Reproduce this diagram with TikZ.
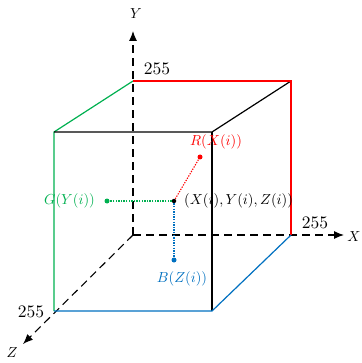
\documentclass[tikz,border=0pt]{standalone}
\usetikzlibrary{arrows.meta}
\definecolor{mygreen}{RGB}{0,176,80}
\definecolor{myred}{RGB}{255,0,0}
\definecolor{myblue}{RGB}{0,112,192}
\newcommand{\lbltxt}[1]{\scalebox{1.45}{#1}}
\newcommand{\numtxt}[1]{\scalebox{1.75}{#1}}
\begin{document}
\begin{tikzpicture}[x=1pt,y=-1pt,
  axis/.style={black,line width=1.1pt,dash pattern=on 8pt off 5pt,-{Latex[length=10pt,width=8pt]}},
  cubeedge/.style={line width=1.2pt},
  guide/.style={line width=1.1pt,dash pattern=on 1.3pt off 1.3pt},
  pt/.style={circle,fill,inner sep=0pt,minimum size=5pt},
  lab/.style={inner sep=1pt}]
\useasboundingbox (0,0) rectangle (361,363);
% cube vertices
\coordinate (O) at (133,235);
\coordinate (BTL) at (133,81);
\coordinate (BTR) at (291,81);
\coordinate (BBR) at (291,235);
\coordinate (FTL) at (54,132);
\coordinate (FTR) at (212,132);
\coordinate (FBL) at (54,311);
\coordinate (FBR) at (212,311);
\coordinate (Yend) at (133,31);
\coordinate (Xend) at (344,235);
\coordinate (Zend) at (23,344);
% axes
\draw[axis] (O) -- (Yend);
\draw[axis] (O) -- (Xend);
\draw[axis] (O) -- (Zend);
% edges
\draw[cubeedge,draw=mygreen] (FBL) -- (FTL) -- (BTL);
\draw[cubeedge,draw=black] (FTL) -- (FTR) -- (BTR);
\draw[cubeedge,draw=black] (FTR) -- (FBR);
\draw[cubeedge,draw=myred] (BTL) -- (BTR) -- (BBR);
\draw[cubeedge,draw=myblue] (FBL) -- (FBR) -- (BBR);
% axis labels
\node[lab] (ly) at (136,14) {\lbltxt{$Y$}};
\node[lab] (lx) at (354,237) {\lbltxt{$X$}};
\node[lab] (lz) at (12,353) {\lbltxt{$Z$}};
\node[lab] (n1) at (157,69) {\numtxt{$255$}};
\node[lab] (n2) at (315,223) {\numtxt{$255$}};
\node[lab] (n3) at (31,312) {\numtxt{$255$}};
% point and projections
\node[pt,fill=black,minimum size=4.5pt] (P) at (174,201) {};
\node[pt,fill=myred] (R) at (200,157) {};
\node[pt,fill=mygreen] (G) at (107,201) {};
\node[pt,fill=myblue] (B) at (174,260) {};
\draw[guide,draw=myred] (P) -- (R);
\draw[guide,draw=mygreen] (P) -- (G);
\draw[guide,draw=myblue] (P) -- (B);
\node[lab,text=myred] (lr) at (216,142) {\lbltxt{$R(X(i))$}};
\node[lab,text=mygreen,anchor=east] (lg) at (96,201) {\lbltxt{$G(Y(i))$}};
\node[lab,text=myblue] (lb) at (182,279) {\lbltxt{$B(Z(i))$}};
\node[lab,anchor=west] (lp) at (183,201) {\lbltxt{$(X(i),Y(i),Z(i))$}};
\end{tikzpicture}
\end{document}
